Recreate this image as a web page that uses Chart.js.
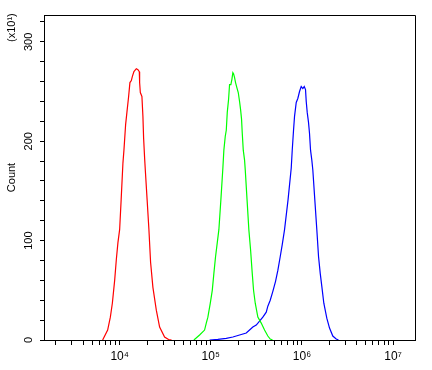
<!DOCTYPE html>
<html>
<head>
<meta charset="utf-8">
<script src="https://cdn.jsdelivr.net/npm/chart.js@4/dist/chart.umd.min.js"></script>
<style>
  html, body { margin: 0; padding: 0; background: #fff; }
  #wrap { width: 432px; height: 370px; }
</style>
</head>
<body>
<div id="wrap"><canvas id="histogram-chart"></canvas></div>
<script>
// fluorescence intensity (x) vs count (y, in units of 10)
const redX = [6510, 7390, 7910, 8320, 8820, 9200, 9580, 10000, 10390, 10870, 11150, 11640, 12020, 12550, 12970, 13440, 13780, 14350, 15250, 15880, 16440, 16570, 16870, 17560, 18010, 18330, 18800, 19130, 20030, 20960, 21870, 23180, 25260, 27460, 31140, 34450, 37170];
const redY = [0, 10, 23, 37, 60, 81, 98, 111, 141, 178, 191, 217, 229, 245, 259, 261, 265, 270, 273, 272, 270, 259, 249, 245, 225, 203, 183, 171, 141, 111, 78, 53, 30, 13, 3, 0.5, 0];

const greenX = [65270, 75390, 85500, 89250, 92930, 98790, 103850, 108140, 112870, 117830, 122700, 129050, 135730, 139190, 144210, 147910, 151680, 156740, 160720, 166110, 170340, 174700, 177830, 182380, 187020, 193280, 200200, 206920, 212220, 217640, 221530, 227210, 234790, 238990, 250030, 261670, 273130, 285110, 294640, 307540, 328430, 357800, 388940, 422700, 449050, 476100];
const greenY = [0, 5, 10, 17, 23, 37, 50, 67, 84, 98, 111, 141, 173, 191, 205, 211, 229, 242, 257, 257, 262, 269, 268, 264, 259, 254, 249, 240, 232, 222, 208, 191, 181, 171, 141, 111, 91, 67, 50, 37, 23, 17, 10, 4, 1, 0];

const blueX = [97000, 119640, 147910, 174700, 206920, 245100, 266300, 289400, 315400, 342800, 372600, 406100, 422700, 449000, 479700, 513500, 544200, 578300, 608200, 644700, 704100, 763300, 782800, 808900, 829600, 866000, 901600, 941200, 982400, 1023000, 1060000, 1095000, 1115000, 1143000, 1181000, 1211000, 1243000, 1284000, 1317000, 1385000, 1457000, 1521000, 1588000, 1653000, 1739000, 1875000, 2008000, 2182000, 2378000, 2520000];
const blueY = [0, 0.7, 1.7, 3, 5, 7, 10, 13, 15, 19, 23, 28, 34, 40, 49, 59, 70, 84, 96, 111, 141, 173, 191, 211, 225, 239, 243, 250, 255, 253, 255, 252, 240, 229, 219, 208, 191, 181, 171, 141, 111, 84, 67, 54, 37, 22, 12, 4, 1, 0];

const xDecades = [1e4, 1e5, 1e6, 1e7];
const xTickLabels = ["10\u2074", "10\u2075", "10\u2076", "10\u2077"];
const yTickLabels = [0, 100, 200, 300];

const xMin = 1480;
const xMax = 17400000;
const yMax = 327;

const FONT = "Arial, 'Liberation Sans', sans-serif";

function toPoints(xs, ys) {
	return xs.map((x, i) => ({ x: x, y: ys[i] }));
}

// top/right frame + the "(x10¹)" multiplier note
const framePlugin = {
	id: "frame",
	afterDraw(chart) {
		const { ctx, chartArea } = chart;
		ctx.save();
		ctx.strokeStyle = "#000";
		ctx.lineWidth = 1;
		ctx.beginPath();
		ctx.moveTo(chartArea.left, chartArea.top + 0.5);
		ctx.lineTo(chartArea.right + 0.5, chartArea.top + 0.5);
		ctx.lineTo(chartArea.right + 0.5, chartArea.bottom);
		ctx.stroke();

		ctx.fillStyle = "#000";
		ctx.font = "11px " + FONT;
		ctx.translate(12, 42);
		ctx.rotate(-Math.PI / 2);
		ctx.textAlign = "left";
		ctx.textBaseline = "middle";
		ctx.fillText("(x10\u00b9)", 0, 0);
		ctx.restore();
	},
};

const ctx = document.getElementById("histogram-chart");

new Chart(ctx, {
	type: "line",
	data: {
		datasets: [
			{ data: toPoints(redX, redY), borderColor: "#ff0000" },
			{ data: toPoints(greenX, greenY), borderColor: "#00ff00" },
			{ data: toPoints(blueX, blueY), borderColor: "#0000ff" },
		],
	},
	options: {
		responsive: true,
		maintainAspectRatio: false,
		animation: false,
		layout: { padding: { top: 15, right: 17, left: 0, bottom: 0 } },
		elements: {
			point: { radius: 0 },
			line: { borderWidth: 1.2, tension: 0, fill: false },
		},
		plugins: {
			legend: { display: false },
			tooltip: { enabled: false },
		},
		scales: {
			x: {
				type: "logarithmic",
				min: xMin,
				max: xMax,
				afterBuildTicks: (scale) => {
					const ticks = [];
					for (let e = 3; e <= 7; e++) {
						for (let m = 1; m <= 9; m++) {
							const v = m * Math.pow(10, e);
							if (v >= xMin && v <= xMax) ticks.push({ value: v });
						}
					}
					scale.ticks = ticks;
				},
				afterFit: (scale) => {
					scale.height = 30;
				},
				grid: { drawOnChartArea: false, tickLength: 5, tickColor: "#000" },
				border: { color: "#000", width: 1 },
				ticks: {
					autoSkip: false,
					maxRotation: 0,
					minRotation: 0,
					padding: 4,
					color: "#000",
					font: { family: FONT, size: 12 },
					callback: (value) => {
						const i = xDecades.indexOf(value);
						return i >= 0 ? xTickLabels[i] : "";
					},
				},
			},
			y: {
				min: 0,
				max: yMax,
				afterFit: (scale) => {
					scale.width = 44;
				},
				grid: { drawOnChartArea: false, tickLength: 4, tickColor: "#000" },
				border: { color: "#000", width: 1 },
				title: {
					display: true,
					text: "Count",
					color: "#000",
					font: { family: FONT, size: 11 },
					padding: { top: 5, bottom: 0 },
				},
				ticks: {
					stepSize: 20,
					includeBounds: false,
					autoSkip: false,
					minRotation: 90,
					maxRotation: 90,
					crossAlign: "center",
					padding: 2,
					color: "#000",
					font: { family: FONT, size: 11 },
					callback: (value) => (yTickLabels.includes(value) ? String(value) : ""),
				},
			},
		},
	},
	plugins: [framePlugin],
});
</script>
</body>
</html>
